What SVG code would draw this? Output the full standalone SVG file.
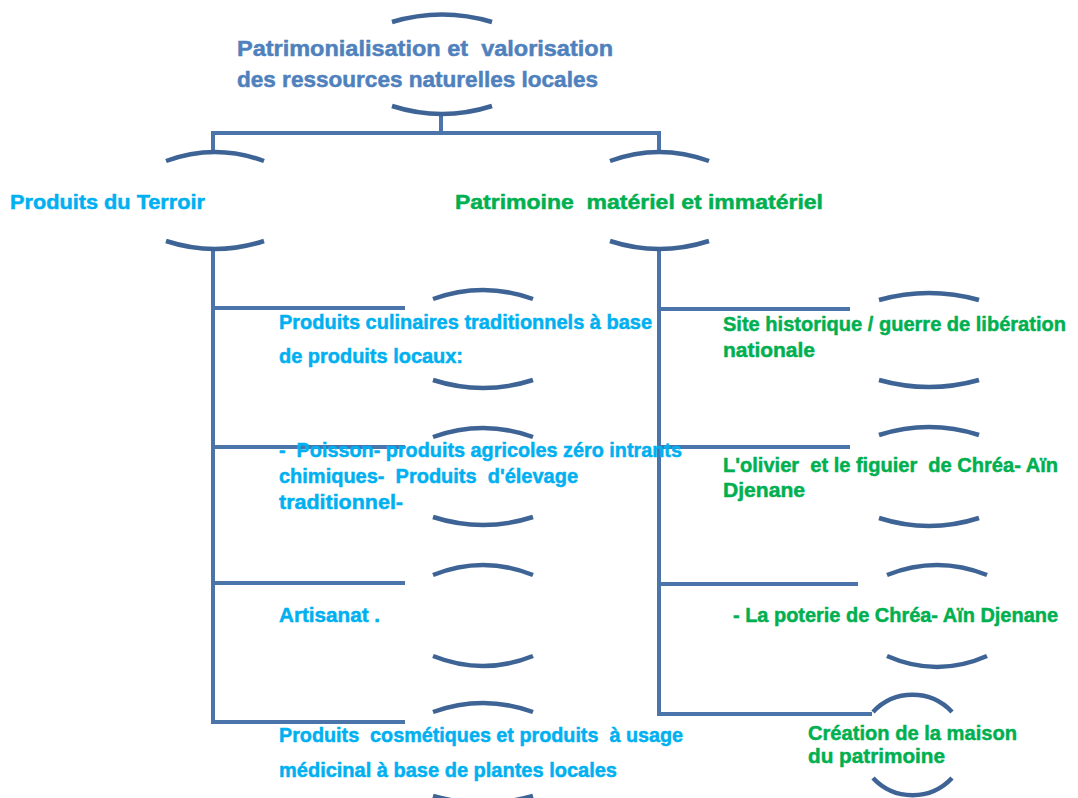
<svg xmlns="http://www.w3.org/2000/svg" width="1078" height="798" viewBox="0 0 1078 798">
<style>
.c{fill:none;stroke:#4a74aa;stroke-width:4}
.a{fill:none;stroke:#3e6496;stroke-width:4.5}
text{font-family:"Liberation Sans",Arial,sans-serif;font-weight:bold;font-size:21px;white-space:pre;stroke-width:0.5px}
.t{fill:#4f81bd;stroke:#4f81bd;font-size:22px}
.b{fill:#00b0f0;stroke:#00b0f0}
.g{fill:#00b050;stroke:#00b050}
</style>
<rect width="1078" height="798" fill="#ffffff"/>
<g id="connectors">
<path class="c" d="M441,114V133M213,133H659M213,131V152M659,131V152"/>
<path class="c" d="M213,248V722H405M213,308H405M213,447H405M213,583H405"/>
<path class="c" d="M659,248V714H872M659,309H850M659,447H850M659,584H858"/>
</g>
<g id="root">
<path class="a" d="M392,22Q442,7 492,22M392,106Q442,122 492,106"/>
<text class="t" x="237" y="56" textLength="376" lengthAdjust="spacingAndGlyphs">Patrimonialisation et  valorisation</text>
<text class="t" x="237" y="87" textLength="361" lengthAdjust="spacingAndGlyphs">des ressources naturelles locales</text>
</g>
<g id="terroir">
<path class="a" d="M166,161Q215,143 264,161M166,241Q215,257 264,241"/>
<text class="b" x="10" y="209" font-size="21" textLength="195" lengthAdjust="spacingAndGlyphs">Produits du Terroir</text>
</g>
<g id="patrimoine">
<path class="a" d="M610,161Q659,143 709,161M610,241Q659,257 709,241"/>
<text class="g" x="455" y="209" font-size="21" textLength="368" lengthAdjust="spacingAndGlyphs">Patrimoine  matériel et immatériel</text>
</g>
<g id="culinaires">
<path class="a" d="M433,299Q483,281 533,299M433,380Q483,396 533,380"/>
<text class="b" x="279" y="329" textLength="373" lengthAdjust="spacingAndGlyphs">Produits culinaires traditionnels à base</text>
<text class="b" x="279" y="363" textLength="184" lengthAdjust="spacingAndGlyphs">de produits locaux:</text>
</g>
<g id="poisson">
<path class="a" d="M433,437Q483,419 533,437M433,517Q483,533 533,517"/>
<text class="b" x="279" y="457" textLength="403" lengthAdjust="spacingAndGlyphs">-  Poisson- produits agricoles zéro intrants</text>
<text class="b" x="279" y="483" textLength="299" lengthAdjust="spacingAndGlyphs">chimiques-  Produits  d'élevage</text>
<text class="b" x="279" y="509" textLength="124" lengthAdjust="spacingAndGlyphs">traditionnel-</text>
</g>
<g id="artisanat">
<path class="a" d="M433,575Q483,555 533,575M433,656Q483,676 533,656"/>
<text class="b" x="279" y="622" textLength="101" lengthAdjust="spacingAndGlyphs">Artisanat .</text>
</g>
<g id="cosmetiques">
<path class="a" d="M433,712Q483,694 533,712M433,796Q483,810 533,796"/>
<text class="b" x="279" y="742" textLength="404" lengthAdjust="spacingAndGlyphs">Produits  cosmétiques et produits  à usage</text>
<text class="b" x="279" y="777" textLength="338" lengthAdjust="spacingAndGlyphs">médicinal à base de plantes locales</text>
</g>
<g id="site">
<path class="a" d="M879,300Q929,286 979,300M879,380Q929,394 979,380"/>
<text class="g" x="723" y="331" textLength="343" lengthAdjust="spacingAndGlyphs">Site historique / guerre de libération</text>
<text class="g" x="723" y="357" textLength="92" lengthAdjust="spacingAndGlyphs">nationale</text>
</g>
<g id="olivier">
<path class="a" d="M879,435Q929,419 979,435M879,518Q929,534 979,518"/>
<text class="g" x="723" y="472" textLength="335" lengthAdjust="spacingAndGlyphs">L'olivier  et le figuier  de Chréa- Aïn</text>
<text class="g" x="723" y="497" textLength="82" lengthAdjust="spacingAndGlyphs">Djenane</text>
</g>
<g id="poterie">
<path class="a" d="M887,575Q937,555 987,575M887,656Q937,678 987,656"/>
<text class="g" x="733" y="622" textLength="325" lengthAdjust="spacingAndGlyphs">- La poterie de Chréa- Aïn Djenane</text>
</g>
<g id="maison">
<path class="a" d="M873,712A54,54 0 0 1 952,712M873,778A54,54 0 0 0 952,778"/>
<text class="g" x="808" y="740" textLength="209" lengthAdjust="spacingAndGlyphs">Création de la maison</text>
<text class="g" x="808" y="763" textLength="137" lengthAdjust="spacingAndGlyphs">du patrimoine</text>
</g>
</svg>
